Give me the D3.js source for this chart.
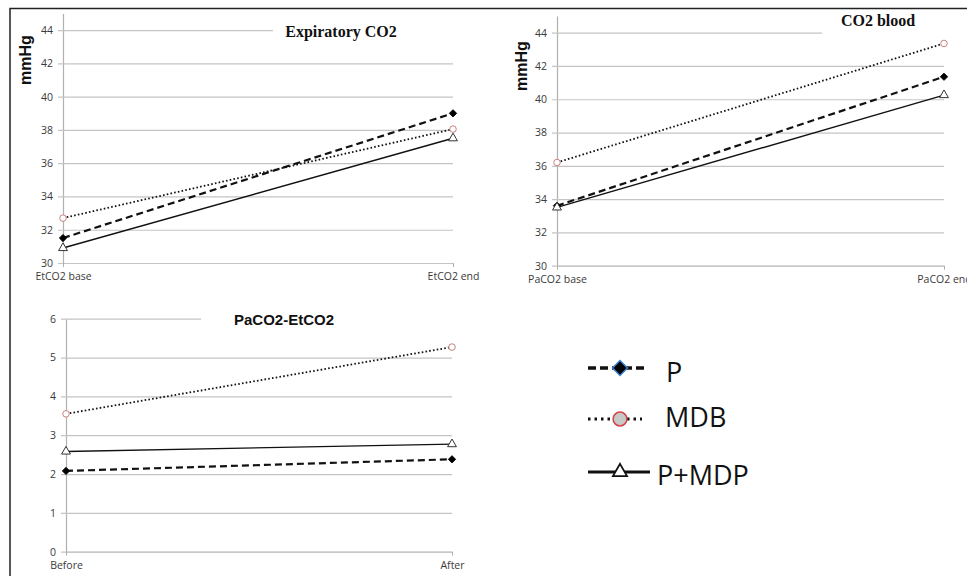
<!DOCTYPE html>
<html>
<head>
<meta charset="utf-8">
<script src="https://cdn.jsdelivr.net/npm/d3@7"></script>
<style>
  body { margin: 0; background: #fff; }
  svg { display: block; }
  .tick text { font-family: "Open Sans", sans-serif; fill: #3a3a3a; }
</style>
</head>
<body>
<div class="chart"></div>
<script>
var svgWidth = 967;
var svgHeight = 576;

// groups in the legend
var groups = ["P", "MDB", "P+MDP"];

// panel 1 - expiratory CO2
var etLabels = ["EtCO2 base", "EtCO2 end"];
var etP = [31.5, 39.0];
var etMDB = [32.7, 38.05];
var etPMDP = [30.9, 37.5];

// panel 2 - CO2 blood
var paLabels = ["PaCO2 base", "PaCO2 end"];
var paP = [33.6, 41.35];
var paMDB = [36.2, 43.35];
var paPMDP = [33.5, 40.25];

// panel 3 - gradient
var diffLabels = ["Before", "After"];
var diffP = [2.08, 2.38];
var diffMDB = [3.55, 5.27];
var diffPMDP = [2.58, 2.77];

var co2Ticks = [30, 32, 34, 36, 38, 40, 42, 44];
var diffTicks = [0, 1, 2, 3, 4, 5, 6];

// square turned 45deg -> diamond
var diamond = {
  draw: function (ctx, size) {
    var r = Math.sqrt(size / 2);
    ctx.moveTo(0, -r);
    ctx.lineTo(r, 0);
    ctx.lineTo(0, r);
    ctx.lineTo(-r, 0);
    ctx.closePath();
  },
};

// line / marker style per group
var styles = {
  "P": { dash: "7,4", width: 2.2, symbol: diamond, size: 26, fill: "#000", stroke: "#000" },
  "MDB": { dash: "1.6,2.2", width: 1.8, symbol: d3.symbolCircle, size: 34, fill: "#fff", stroke: "#c98080" },
  "P+MDP": { dash: null, width: 1.4, symbol: d3.symbolTriangle, size: 34, fill: "#fff", stroke: "#333" },
};

var svg = d3
  .select(".chart")
  .append("svg")
  .attr("width", svgWidth)
  .attr("height", svgHeight);

// outer frame (top + left)
svg.append("path")
  .attr("d", "M10,576V8.5H967")
  .attr("fill", "none")
  .attr("stroke", "#222")
  .attr("stroke-width", 1.5);

function drawPanel(opt) {
  var xScale = d3.scalePoint().domain(opt.labels).range([opt.x0, opt.x1]);
  var yScale = d3.scaleLinear().domain(opt.domain).range([opt.yBottom, opt.yTop]);

  var g = svg.append("g");

  // y axis + gridlines
  var yAxis = g.append("g")
    .attr("transform", `translate(${opt.x0},0)`)
    .call(d3.axisLeft(yScale).tickValues(opt.ticks).tickFormat(d3.format("d"))
      .tickSizeInner(-(opt.x1 - opt.x0)).tickSizeOuter(0).tickPadding(10));
  yAxis.select(".domain").attr("stroke", "#b0b0b0").attr("stroke-width", 1.2);
  yAxis.selectAll(".tick line").attr("x1", -5).attr("stroke", "#c4c4c4").attr("stroke-width", 1.2);
  yAxis.selectAll(".tick text").style("font-size", "10.5px");

  // x axis
  var xAxis = g.append("g")
    .attr("transform", `translate(0,${opt.yBottom})`)
    .call(d3.axisBottom(xScale).tickSize(4).tickSizeOuter(0).tickPadding(6));
  xAxis.select(".domain").attr("stroke", "#c4c4c4");
  xAxis.selectAll(".tick line").attr("stroke", "#b0b0b0");
  xAxis.selectAll(".tick text").style("font-size", "10.5px");

  // title box hides part of top gridline
  g.append("rect")
    .attr("x", opt.box[0]).attr("y", opt.box[1])
    .attr("width", opt.box[2]).attr("height", opt.box[3])
    .attr("fill", "#fff");

  g.append("text")
    .attr("x", opt.titleX)
    .attr("y", opt.titleY)
    .attr("text-anchor", "middle")
    .style("font-family", opt.titleFont)
    .style("font-weight", "bold")
    .style("font-size", opt.titleSize)
    .style("fill", "#111")
    .text(opt.title);

  if (opt.unitX) {
    g.append("text")
      .attr("transform", `translate(${opt.unitX},${opt.unitY}) rotate(-90)`)
      .attr("text-anchor", "middle")
      .style("font-family", "Liberation Sans, Arial, sans-serif")
      .style("font-weight", "bold")
      .style("font-size", "16px")
      .style("fill", "#111")
      .text("mmHg");
  }

  var line = d3.line()
    .x((d, i) => xScale(opt.labels[i]))
    .y((d) => yScale(d));

  opt.series.forEach((s) => {
    var st = styles[s.name];
    g.append("path")
      .datum(s.values)
      .attr("d", line)
      .attr("fill", "none")
      .attr("stroke", "#111")
      .attr("stroke-width", st.width)
      .attr("stroke-dasharray", st.dash);
  });

  opt.series.forEach((s) => {
    var st = styles[s.name];
    g.selectAll(null)
      .data(s.values)
      .enter()
      .append("path")
      .attr("transform", (d, i) => `translate(${xScale(opt.labels[i])},${yScale(d)})`)
      .attr("d", d3.symbol().type(st.symbol).size(st.size))
      .attr("fill", st.fill)
      .attr("stroke", st.stroke)
      .attr("stroke-width", 1);
  });
}

drawPanel({
  labels: etLabels, domain: [30, 45], ticks: co2Ticks,
  x0: 63, x1: 453, yBottom: 263, yTop: 13.5,
  series: [{ name: "P", values: etP }, { name: "MDB", values: etMDB }, { name: "P+MDP", values: etPMDP }],
  box: [273, 18, 190, 24],
  title: "Expiratory CO2", titleX: 341, titleY: 37, titleSize: "16px",
  titleFont: "Liberation Serif, Times New Roman, serif",
  unitX: 31, unitY: 60,
});

drawPanel({
  labels: paLabels, domain: [30, 45], ticks: co2Ticks,
  x0: 557, x1: 944, yBottom: 265.7, yTop: 16,
  series: [{ name: "P", values: paP }, { name: "MDB", values: paMDB }, { name: "P+MDP", values: paPMDP }],
  box: [822, 10, 140, 28],
  title: "CO2 blood", titleX: 878, titleY: 26, titleSize: "16px",
  titleFont: "Liberation Serif, Times New Roman, serif",
  unitX: 527, unitY: 66,
});

drawPanel({
  labels: diffLabels, domain: [0, 6], ticks: diffTicks,
  x0: 66, x1: 452, yBottom: 551.7, yTop: 318.7,
  series: [{ name: "P", values: diffP }, { name: "MDB", values: diffMDB }, { name: "P+MDP", values: diffPMDP }],
  box: [201, 305, 260, 27],
  title: "PaCO2-EtCO2", titleX: 284, titleY: 325, titleSize: "15px",
  titleFont: "Liberation Sans, Arial, sans-serif",
  unitX: null,
});

// legend
var legendRows = [
  { y: 368, textX: 666, textY: 382 },
  { y: 419, textX: 665, textY: 427 },
  { y: 472, textX: 657, textY: 485 },
];
var legendLines = [[588, 645], [588, 642], [588, 650]];
var legendStyles = [
  { dash: "8,4", width: 3.5, symbol: diamond, size: 110, fill: "#000", stroke: "#3b7fd0", sw: 1.5 },
  { dash: "2.5,4", width: 3, symbol: d3.symbolCircle, size: 150, fill: "#c8c8c8", stroke: "#d04545", sw: 1.5 },
  { dash: null, width: 3.2, symbol: d3.symbolTriangle, size: 85, fill: "#fff", stroke: "#111", sw: 1.8 },
];

var legend = svg.append("g");
groups.forEach((name, i) => {
  var r = legendRows[i];
  var st = legendStyles[i];
  legend.append("line")
    .attr("x1", legendLines[i][0]).attr("x2", legendLines[i][1])
    .attr("y1", r.y).attr("y2", r.y)
    .attr("stroke", "#111")
    .attr("stroke-width", st.width)
    .attr("stroke-dasharray", st.dash);
  legend.append("path")
    .attr("transform", `translate(620,${r.y})`)
    .attr("d", d3.symbol().type(st.symbol).size(st.size))
    .attr("fill", st.fill)
    .attr("stroke", st.stroke)
    .attr("stroke-width", st.sw);
  legend.append("text")
    .attr("x", r.textX)
    .attr("y", r.textY)
    .style("font-family", "Open Sans, sans-serif")
    .style("font-size", "27px")
    .style("fill", "#111")
    .text(name);
});
</script>
</body>
</html>
